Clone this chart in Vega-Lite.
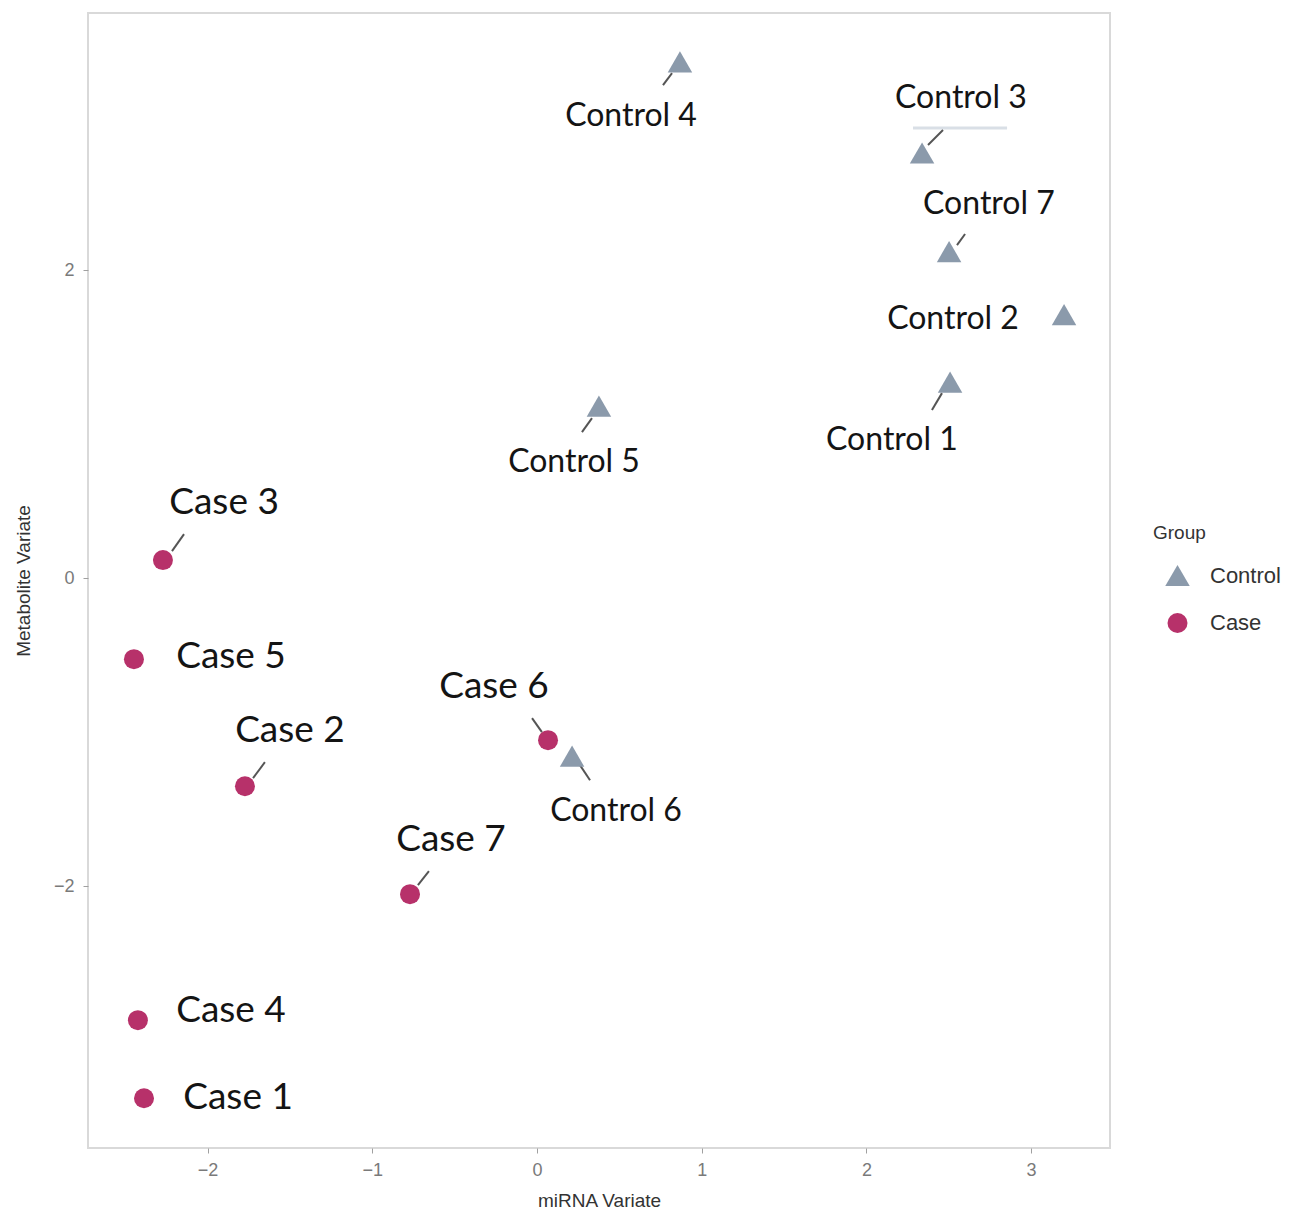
{
  "$schema": "https://vega.github.io/schema/vega-lite/v6.json",
  "width": 1022,
  "height": 1135,
  "autosize": {"type": "none"},
  "padding": {"left": 88, "top": 13, "right": 181, "bottom": 66},
  "background": "white",
  "config": {
    "view": {"stroke": "#d9d9d9", "strokeWidth": 2},
    "axis": {
      "grid": false,
      "domain": false,
      "ticks": true,
      "tickColor": "#a0a0a0",
      "tickSize": 5,
      "labelFont": "Liberation Sans",
      "labelFontSize": 18,
      "labelColor": "#7a7a7a",
      "titleFont": "Liberation Sans",
      "titleFontSize": 19,
      "titleFontWeight": "normal",
      "titleColor": "#333333"
    },
    "legend": {
      "titleFont": "Liberation Sans",
      "titleFontSize": 19,
      "titleFontWeight": "normal",
      "titleColor": "#333333",
      "labelFont": "Liberation Sans",
      "labelFontSize": 22,
      "labelColor": "#333333",
      "symbolSize": 450,
      "symbolOpacity": 1,
      "symbolStrokeWidth": 0,
      "symbolOffset": 12,
      "labelOffset": 20,
      "rowPadding": 25,
      "titlePadding": 20,
      "padding": 0
    }
  },
  "datasets": {
    "samples": [
      {"label": "Control 1", "Group": "Control", "x": 2.508, "y": 1.273, "lx": 2.155, "ly": 0.896},
      {"label": "Control 2", "Group": "Control", "x": 3.200, "y": 1.711, "lx": 2.526, "ly": 1.682},
      {"label": "Control 3", "Group": "Control", "x": 2.338, "y": 2.760, "lx": 2.574, "ly": 3.117},
      {"label": "Control 4", "Group": "Control", "x": 0.868, "y": 3.351, "lx": 0.571, "ly": 3.000},
      {"label": "Control 5", "Group": "Control", "x": 0.376, "y": 1.117, "lx": 0.225, "ly": 0.753},
      {"label": "Control 6", "Group": "Control", "x": 0.213, "y": -1.156, "lx": 0.480, "ly": -1.513},
      {"label": "Control 7", "Group": "Control", "x": 2.502, "y": 2.120, "lx": 2.744, "ly": 2.429},
      {"label": "Case 1", "Group": "Case", "x": -2.386, "y": -3.377, "lx": -1.815, "ly": -3.377},
      {"label": "Case 2", "Group": "Case", "x": -1.773, "y": -1.351, "lx": -1.500, "ly": -0.994},
      {"label": "Case 3", "Group": "Case", "x": -2.271, "y": 0.117, "lx": -1.900, "ly": 0.487},
      {"label": "Case 4", "Group": "Case", "x": -2.423, "y": -2.870, "lx": -1.858, "ly": -2.812},
      {"label": "Case 5", "Group": "Case", "x": -2.447, "y": -0.526, "lx": -1.858, "ly": -0.513},
      {"label": "Case 6", "Group": "Case", "x": 0.067, "y": -1.052, "lx": -0.261, "ly": -0.708},
      {"label": "Case 7", "Group": "Case", "x": -0.771, "y": -2.052, "lx": -0.522, "ly": -1.701}
    ],
    "leaders": [
      {"label": "Control 1", "x": 2.398, "y": 1.091, "x2": 2.459, "y2": 1.201},
      {"label": "Control 3", "x": 2.374, "y": 2.812, "x2": 2.465, "y2": 2.909},
      {"label": "Control 4", "x": 0.765, "y": 3.201, "x2": 0.820, "y2": 3.279},
      {"label": "Control 5", "x": 0.273, "y": 0.948, "x2": 0.334, "y2": 1.039},
      {"label": "Control 6", "x": 0.261, "y": -1.214, "x2": 0.322, "y2": -1.312},
      {"label": "Control 7", "x": 2.550, "y": 2.162, "x2": 2.599, "y2": 2.234},
      {"label": "Case 2", "x": -1.724, "y": -1.299, "x2": -1.652, "y2": -1.195},
      {"label": "Case 3", "x": -2.216, "y": 0.175, "x2": -2.143, "y2": 0.286},
      {"label": "Case 6", "x": -0.030, "y": -0.909, "x2": 0.030, "y2": -1.000},
      {"label": "Case 7", "x": -0.723, "y": -1.994, "x2": -0.656, "y2": -1.903}
    ],
    "underline": [
      {"x": 2.283, "x2": 2.854, "y": 2.922}
    ]
  },
  "layer": [
    {
      "data": {"name": "underline"},
      "mark": {"type": "rule", "color": "#d9dfe6", "strokeWidth": 3},
      "encoding": {
        "x": {"field": "x", "type": "quantitative"},
        "x2": {"field": "x2"},
        "y": {"field": "y", "type": "quantitative"}
      }
    },
    {
      "data": {"name": "leaders"},
      "mark": {"type": "rule", "color": "#555555", "strokeWidth": 2},
      "encoding": {
        "x": {"field": "x", "type": "quantitative"},
        "y": {"field": "y", "type": "quantitative"},
        "x2": {"field": "x2"},
        "y2": {"field": "y2"}
      }
    },
    {
      "data": {"name": "samples"},
      "mark": {"type": "point", "filled": true, "opacity": 1, "strokeWidth": 0},
      "encoding": {
        "x": {
          "field": "x",
          "type": "quantitative",
          "title": "miRNA Variate",
          "scale": {"domain": [-2.726, 3.479], "nice": false, "zero": false},
          "axis": {"values": [-2, -1, 0, 1, 2, 3], "format": "d", "labelPadding": 8, "titlePadding": 12}
        },
        "y": {
          "field": "y",
          "type": "quantitative",
          "title": "Metabolite Variate",
          "scale": {"domain": [-3.70, 3.669], "nice": false, "zero": false},
          "axis": {"values": [-2, 0, 2], "format": "d", "labelPadding": 9, "titlePadding": 20}
        },
        "color": {
          "field": "Group",
          "type": "nominal",
          "title": "Group",
          "scale": {"domain": ["Control", "Case"], "range": ["#8b9aab", "#b7316a"]},
          "legend": {"orient": "none", "legendX": 1065, "legendY": 511}
        },
        "shape": {
          "field": "Group",
          "type": "nominal",
          "title": "Group",
          "scale": {"domain": ["Control", "Case"], "range": ["triangle-up", "circle"]}
        },
        "size": {
          "field": "Group",
          "type": "nominal",
          "scale": {"domain": ["Control", "Case"], "range": [600, 400]},
          "legend": null
        }
      }
    },
    {
      "data": {"name": "samples"},
      "transform": [{"filter": "datum.Group === 'Control'"}],
      "mark": {"type": "text", "font": "Lato", "fontSize": 32, "color": "#141414", "align": "center", "baseline": "middle"},
      "encoding": {
        "x": {"field": "lx", "type": "quantitative"},
        "y": {"field": "ly", "type": "quantitative"},
        "text": {"field": "label"}
      }
    },
    {
      "data": {"name": "samples"},
      "transform": [{"filter": "datum.Group === 'Case'"}],
      "mark": {"type": "text", "font": "Lato", "fontSize": 37, "color": "#141414", "align": "center", "baseline": "middle"},
      "encoding": {
        "x": {"field": "lx", "type": "quantitative"},
        "y": {"field": "ly", "type": "quantitative"},
        "text": {"field": "label"}
      }
    }
  ]
}
